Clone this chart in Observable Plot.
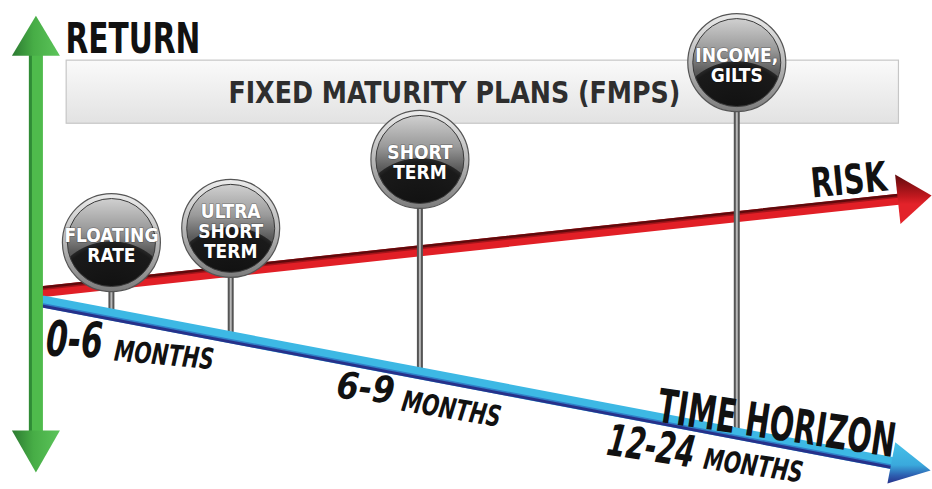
<!DOCTYPE html>
<html><head><meta charset="utf-8">
<script src="https://cdn.jsdelivr.net/npm/d3@7"></script>
<script src="https://cdn.jsdelivr.net/npm/@observablehq/plot@0.6"></script>
<style>html,body{margin:0;padding:0;background:#fff;overflow:hidden}</style>
</head><body><div id="chart"></div>
<script>
// ---------- data (abstract units: x = time horizon 0..100, y = return 0..100) ----------
const fundNames = ["FLOATING\nRATE", "ULTRA\nSHORT\nTERM", "SHORT\nTERM", "INCOME,\nGILTS"];
const fundX = [11.9, 24.7, 45.0, 79.0];
const fundReturn = [50.5, 53.4, 67.5, 87.3];
const fundStemEnd = [35.8, 31.3, 23.9, 11.7];

const horizonNumbers = ["0-6", "6-9", "12-24"];
const horizonNumX = [4.83, 35.94, 64.91];
const horizonNumY = [27.40, 18.81, 7.16];
const horizonUnit = "MONTHS";
const horizonUnitX = [12.12, 42.92, 75.32];
const horizonUnitY = [26.38, 16.16, 4.29];

const axisLabels = ["RETURN", "RISK", "TIME HORIZON"];
const axisLabelX = [6.97, 87.1, 70.3];
const axisLabelY = [89.2, 59.7, 13.9];

const returnAxisX = [3.8, 3.8];   // bottom tip, top tip
const returnAxisY = [3.5, 96.9];
const riskAxisX = [4.6, 99.9];    // start, tip
const riskAxisY = [40.5, 60.1];
const timeAxisX = [4.6, 99.8];
const timeAxisY = [38.4, 3.9];

const bandLabel = "FIXED MATURITY PLANS (FMPS)";
const bandX = [7.1, 96.4];
const bandY = [74.8, 87.7];
const bandLabelX = 48.7;
const bandLabelY = 79.1;

// ---------- layout / style ----------
const W = 932, H = 489;
const FONT = '"DejaVu Sans Condensed", "DejaVu Sans", sans-serif';
const numSize = [49, 37, 44];
const numRotate = [2, 6, 8.5];
const unitRotate = [5, 9.5, 8];
const fitWidth = {"RETURN": 135, "FIXED MATURITY PLANS (FMPS)": 452, "RISK": 76, "TIME HORIZON": 240,
                  "0-6": 57, "6-9": 58, "12-24": 88, "MONTHS": 100};

const px = u => u / 100 * W, py = v => H - v / 100 * H;
const ux = p => p / W * 100, uy = p => (H - p) / H * 100;

function arrowGeom(x0, y0, x1, y1, len, half, overlap = 3) {
  const ax = px(x0), ay = py(y0), bx = px(x1), by = py(y1);
  const d = Math.hypot(bx - ax, by - ay), ex = (bx - ax) / d, ey = (by - ay) / d;
  const baseX = bx - ex * len, baseY = by - ey * len;
  const nx = -ey, ny = ex;
  return {
    base: {x: ux(baseX + ex * overlap), y: uy(baseY + ey * overlap)},
    shaft: [{x: x0, y: y0}, {x: ux(baseX + ex * overlap), y: uy(baseY + ey * overlap)}],
    head: [{x: x1, y: y1},
           {x: ux(baseX + nx * half), y: uy(baseY + ny * half)},
           {x: ux(baseX - nx * half), y: uy(baseY - ny * half)}]
  };
}

const risk = arrowGeom(riskAxisX[0], riskAxisY[0], riskAxisX[1], riskAxisY[1], 34, 25);
const time = arrowGeom(timeAxisX[0], timeAxisY[0], timeAxisX[1], timeAxisY[1], 40, 21);
const up = arrowGeom(returnAxisX[0], returnAxisY[0], returnAxisX[1], returnAxisY[1], 40, 24);
const down = arrowGeom(returnAxisX[1], returnAxisY[1], returnAxisX[0], returnAxisY[0], 42, 24);
const greenShaft = [down.base, up.base];

const funds = fundNames.map((n, i) => ({name: n, x: fundX[i], y: fundReturn[i], end: fundStemEnd[i]}));
const nums = horizonNumbers.map((t, i) => ({t, x: horizonNumX[i], y: horizonNumY[i], i}));
const units = horizonUnitX.map((x, i) => ({t: horizonUnit, x, y: horizonUnitY[i], i}));

const svg = Plot.plot({
  width: W, height: H, margin: 0,
  x: {domain: [0, 100], range: [0, W], axis: null},
  y: {domain: [0, 100], range: [H, 0], axis: null},
  style: {background: "#fff", overflow: "visible"},
  marks: [
    // FMP band
    Plot.rect([0], {x1: bandX[0], x2: bandX[1], y1: bandY[0], y2: bandY[1], fill: "url(#gBox)", stroke: "#c6c6c6", strokeWidth: 1.2}),
    Plot.text([bandLabel], {x: bandLabelX, y: bandLabelY, text: d => d, textAnchor: "middle", lineAnchor: "bottom",
      fontFamily: FONT, fontWeight: "bold", fontSize: 30, fill: "#2e2e2e"}),
    // risk arrow
    Plot.line(risk.shaft, {x: "x", y: "y", stroke: "#e11f26", strokeWidth: 11}),
    Plot.line(risk.shaft, {x: "x", y: "y", stroke: "#a3141a", strokeWidth: 2, dy: -2.5}),
    Plot.line(risk.shaft, {x: "x", y: "y", stroke: "#5e0a0c", strokeWidth: 2.5, dy: -4.3}),
    Plot.line(risk.head, {x: "x", y: "y", fill: "url(#gRed)", stroke: "none"}),
    // stems
    Plot.ruleX(funds, {x: "x", y1: "y", y2: "end", stroke: "#555", strokeWidth: 6}),
    Plot.ruleX(funds, {x: "x", y1: "y", y2: "end", stroke: "#b8b8b8", strokeWidth: 2}),
    // bubbles
    Plot.dot(funds, {x: "x", y: "y", r: 49, fill: "url(#gRing)", stroke: "#555", strokeWidth: 1.2}),
    Plot.dot(funds, {x: "x", y: "y", r: 44, fill: "url(#gFace)", stroke: "#3a3a3a", strokeWidth: 1}),
    Plot.dot(funds, {x: "x", y: "y", r: 43.5, fill: "url(#gDome)", stroke: "none"}),
    Plot.text(funds, {x: "x", y: "y", text: "name", fill: "#fff", fontFamily: FONT, fontWeight: "bold", fontSize: 19,
      lineHeight: 1.05, dy: 3, stroke: "#000", strokeOpacity: 0.25, strokeWidth: 1.5, paintOrder: "stroke", ariaLabel: "fund-label"}),
    // time arrow
    Plot.line(time.shaft, {x: "x", y: "y", stroke: "#3db8e4", strokeWidth: 12}),
    Plot.line(time.shaft, {x: "x", y: "y", stroke: "#2f7fc8", strokeWidth: 2, dy: 2.5}),
    Plot.line(time.shaft, {x: "x", y: "y", stroke: "#27318a", strokeWidth: 3, dy: 4.5}),
    Plot.line(time.head, {x: "x", y: "y", fill: "url(#gBlue)", stroke: "none"}),
    // return arrow
    Plot.line(greenShaft, {x: "x", y: "y", stroke: "#4fbb4c", strokeWidth: 14}),
    Plot.line(greenShaft, {x: "x", y: "y", stroke: "#2f8b36", strokeWidth: 3, dx: -5.5}),
    Plot.line(up.head, {x: "x", y: "y", fill: "url(#gGreen)", stroke: "none"}),
    Plot.line(down.head, {x: "x", y: "y", fill: "url(#gGreen)", stroke: "none"}),
    // axis labels
    Plot.text([0], {x: axisLabelX[0], y: axisLabelY[0], text: () => axisLabels[0], textAnchor: "start", lineAnchor: "bottom",
      fontFamily: FONT, fontWeight: "bold", fontSize: 42, fill: "#111"}),
    Plot.text([1], {x: axisLabelX[1], y: axisLabelY[1], text: () => axisLabels[1], textAnchor: "start", lineAnchor: "bottom",
      rotate: -5.5, fontFamily: FONT, fontWeight: "bold", fontSize: 41, fill: "#111"}),
    Plot.text([2], {x: axisLabelX[2], y: axisLabelY[2], text: () => axisLabels[2], textAnchor: "start", lineAnchor: "bottom",
      rotate: 8.5, fontFamily: FONT, fontWeight: "bold", fontSize: 47, fill: "#111"}),
    // time-horizon labels
    Plot.text(nums, {x: "x", y: "y", text: "t", textAnchor: "start", lineAnchor: "bottom",
      rotate: d => numRotate[d.i], fontSize: d => numSize[d.i],
      fontFamily: FONT, fontWeight: "bold", fontStyle: "italic", fill: "#111"}),
    Plot.text(units, {x: "x", y: "y", text: "t", textAnchor: "start", lineAnchor: "bottom",
      rotate: d => unitRotate[d.i], fontSize: 29,
      fontFamily: FONT, fontWeight: "bold", fontStyle: "italic", fill: "#111"})
  ]
});
document.getElementById("chart").append(svg);

// gradients
const defs = d3.select(svg).insert("defs", ":first-child");
function lg(id, stops, horiz) {
  const g = defs.append("linearGradient").attr("id", id)
    .attr("x1", 0).attr("y1", 0).attr("x2", horiz ? 1 : 0).attr("y2", horiz ? 0 : 1);
  stops.forEach(([o, c, a]) => g.append("stop").attr("offset", o).attr("stop-color", c).attr("stop-opacity", a ?? 1));
}
lg("gBox", [[0, "#fafafa"], [1, "#e2e2e2"]]);
lg("gRing", [[0, "#ececec"], [0.5, "#b8b8b8"], [1, "#7c7c7c"]]);
lg("gFace", [[0, "#d0d0d0"], [0.35, "#9a9a9a"], [0.6, "#5c5c5c"], [1, "#333"]]);
lg("gRed", [[0, "#5e0a0c"], [0.45, "#c3191f"], [0.6, "#e3232a"], [1, "#e3232a"]]);
lg("gBlue", [[0, "#46c2ea"], [0.55, "#3aa9dc"], [0.8, "#2d5fb0"], [1, "#27318a"]]);
lg("gGreen", [[0, "#2c7a31"], [0.45, "#47ad46"], [1, "#5cc45a"]], true);
const rg = defs.append("radialGradient").attr("id", "gDome")
  .attr("cx", 0.5).attr("cy", 1.22).attr("r", 0.74).attr("fx", 0.5).attr("fy", 1.22);
[[0, "#0e0e0e", 1], [0.93, "#1a1a1a", 1], [0.985, "#262626", 1], [1, "#262626", 0]].forEach(([o, c, a]) =>
  rg.append("stop").attr("offset", o).attr("stop-color", c).attr("stop-opacity", a));

// condensed lettering (fit each label to the width it takes in the original)
d3.select(svg).selectAll("text").each(function () {
  const w = fitWidth[this.textContent];
  if (!w) return;
  const len = this.getComputedTextLength();
  this.setAttribute("transform", (this.getAttribute("transform") || "") + ` scale(${w / len},1)`);
});
d3.select(svg).selectAll('g[aria-label="fund-label"] text').each(function () {
  this.setAttribute("transform", (this.getAttribute("transform") || "") + " scale(0.9,1)");
});
</script>
</body></html>
